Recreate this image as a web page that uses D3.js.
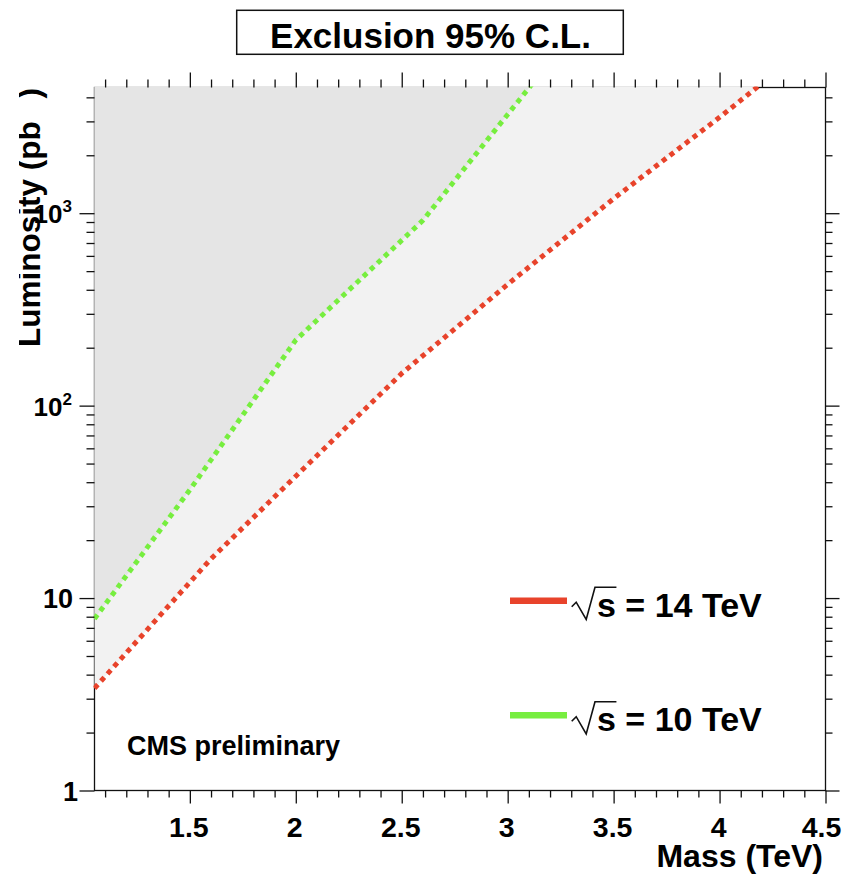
<!DOCTYPE html>
<html>
<head>
<meta charset="utf-8">
<script src="https://cdn.jsdelivr.net/npm/d3@7"></script>
<style>
  html, body { margin: 0; padding: 0; background: #fff; }
  svg { display: block; font-family: "Liberation Sans", Arial, Helvetica, sans-serif; font-weight: bold; }
</style>
</head>
<body>
<svg id="chart" width="855" height="876"></svg>
<script>
// Exclusion reach (95% C.L.) vs. resonance mass, for two LHC energies
const mass10 = [1.05, 1.5, 2.0, 2.6, 3.0, 3.5];
const lumi10 = [7.8, 36.5, 219, 918, 3260, 15800];
const mass14 = [1.05, 1.6, 2.0, 2.5, 3.0, 3.5, 4.0, 4.5];
const lumi14 = [3.4, 16, 43, 147, 427, 1190, 3150, 8700];

const seriesLabels = ["s = 14 TeV", "s = 10 TeV"];
const seriesColors = ["#e8432b", "#77ee3f"];

const xMajorTicks = [1.5, 2, 2.5, 3, 3.5, 4, 4.5];
const xTickLabels = ["1.5", "2", "2.5", "3", "3.5", "4", "4.5"];
const yMajorTicks = [1, 10, 100, 1000];
const yMinorTicks = [2,3,4,5,6,7,8,9,20,30,40,50,60,70,80,90,200,300,400,500,600,700,800,900,2000,3000,4000];

const xDomain = [1.05, 4.5];
const yDomain = [1, 4500];

const svg = d3.select("#chart");
const x = d3.scaleLinear().domain(xDomain).range([94.5, 825.5]);
const y = d3.scaleLog().domain(yDomain).range([790.5, 87.5]);
const xMinorTicks = d3.range(11, 45).map(d => d / 10).filter(d => Math.abs(d * 2 - Math.round(d * 2)) > 1e-6);

const toPts = (ms, ls) => ms.map((m, i) => ({ m, l: ls[i] }));
const s14 = toPts(mass14, lumi14);
const s10 = toPts(mass10, lumi10);

// frame
const [x0, x1] = x.range();
const [yb, yt] = y.range();
svg.append("rect")
  .attr("x", x0).attr("y", yt).attr("width", x1 - x0).attr("height", yb - yt)
  .attr("fill", "none").attr("stroke", "#111").attr("stroke-width", 1.3);

// clip for filled regions and curves
const defs = svg.append("defs");
defs.append("clipPath").attr("id", "plotClip")
  .append("rect").attr("x", x0 - 1).attr("y", yt - 1)
  .attr("width", x1 - x0 + 1).attr("height", yb - yt + 1);
defs.append("clipPath").attr("id", "titleClip")
  .append("rect").attr("x", 19).attr("y", 0).attr("width", 60).attr("height", 876);

const plot = svg.append("g").attr("clip-path", "url(#plotClip)");
const area = d3.area().x(d => x(d.m)).y0(y(yDomain[1]) - 2).y1(d => y(d.l));
plot.append("path").datum(s14).attr("d", area).attr("fill", "#f2f2f2");
plot.append("path").datum(s10).attr("d", area).attr("fill", "#e5e5e5");

const line = d3.line().x(d => x(d.m)).y(d => y(d.l));
[s14, s10].forEach((s, i) => {
  plot.append("path").datum(s).attr("d", line)
    .attr("fill", "none").attr("stroke", seriesColors[i])
    .attr("stroke-width", 5).attr("stroke-dasharray", "5 4.7");
});

// axes (ticks drawn outside the frame)
function axisGroup(axis, tx, ty) {
  const g = svg.append("g").attr("transform", `translate(${tx},${ty})`).call(axis);
  g.select(".domain").remove();
  g.selectAll(".tick line").attr("stroke", "#111").attr("stroke-width", 1.3);
  g.selectAll(".tick text").remove();
  return g;
}
axisGroup(d3.axisBottom(x).tickValues(xMajorTicks).tickSize(13).tickSizeOuter(0), 0, yb);
axisGroup(d3.axisBottom(x).tickValues(xMinorTicks).tickSize(7).tickSizeOuter(0), 0, yb);
axisGroup(d3.axisTop(x).tickValues(xMajorTicks).tickSize(15).tickSizeOuter(0), 0, yt);
axisGroup(d3.axisTop(x).tickValues(xMinorTicks).tickSize(8).tickSizeOuter(0), 0, yt);
axisGroup(d3.axisLeft(y).tickValues(yMajorTicks).tickSize(15).tickSizeOuter(0), x0, 0);
axisGroup(d3.axisLeft(y).tickValues(yMinorTicks).tickSize(8).tickSizeOuter(0), x0, 0);
axisGroup(d3.axisRight(y).tickValues(yMajorTicks).tickSize(14).tickSizeOuter(0), x1, 0);
axisGroup(d3.axisRight(y).tickValues(yMinorTicks).tickSize(7).tickSizeOuter(0), x1, 0);

// x tick labels
svg.append("g").selectAll("text").data(xMajorTicks).join("text")
  .attr("x", d => x(d) - (d === 4.5 ? 4 : 1)).attr("y", 837)
  .attr("text-anchor", "middle").attr("font-size", 28.5)
  .text((d, i) => xTickLabels[i]);

// y tick labels
yMajorTicks.forEach(v => {
  const exp = Math.round(Math.log10(v));
  const t = svg.append("text").attr("text-anchor", "end").attr("y", y(v) + 10);
  if (exp === 0) {
    t.attr("x", 78).attr("font-size", 27).text("1");
  } else if (exp === 1) {
    t.attr("x", 73).attr("font-size", 27).text("10");
  } else {
    t.attr("x", 72).attr("font-size", 26);
    t.append("tspan").text("10");
    t.append("tspan").attr("font-size", 17).attr("dy", -11).text(String(exp));
  }
});

// axis titles
svg.append("text").attr("x", 823).attr("y", 867).attr("text-anchor", "end")
  .attr("font-size", 32).text("Mass (TeV)");

const yTitle = svg.append("g").attr("clip-path", "url(#titleClip)")
  .append("text").attr("transform", "translate(40,88) rotate(-90)")
  .attr("text-anchor", "end").attr("font-size", 31.5);
yTitle.append("tspan").text("Luminosity (pb");
yTitle.append("tspan").attr("font-size", 20).attr("dy", -24).text("\u22121");
yTitle.append("tspan").attr("dy", 24).text(")");

// title box
svg.append("rect").attr("x", 236.7).attr("y", 10.3).attr("width", 386.6).attr("height", 44)
  .attr("fill", "#fff").attr("stroke", "#111").attr("stroke-width", 1.5);
svg.append("text").attr("x", 430.5).attr("y", 47.7).attr("text-anchor", "middle")
  .attr("font-size", 35).text("Exclusion 95% C.L.");

// CMS label
svg.append("text").attr("x", 127).attr("y", 755).attr("font-size", 27).text("CMS preliminary");

// legend
seriesLabels.forEach((lab, i) => {
  const ly = 600.7 + i * 114.5;
  svg.append("line").attr("x1", 510).attr("x2", 567).attr("y1", ly).attr("y2", ly)
    .attr("stroke", seriesColors[i]).attr("stroke-width", 6.5);
  const bx = 571.7, by = ly + 16;
  // radical sign over s
  const txt = svg.append("text").attr("x", 597).attr("y", by).attr("font-size", 34);
  txt.append("tspan").text(lab);
  const sW = txt.node().getSubStringLength(0, 1);
  svg.append("path")
    .attr("d", `M${bx},${by - 10} L${bx + 4.5},${by - 14.5} L${bx + 14.5},${by + 2.8} L${bx + 23.3},${by - 29.4} L${597 + sW + 0.5},${by - 29.4}`)
    .attr("fill", "none").attr("stroke", "#111").attr("stroke-width", 1.6)
    .attr("stroke-linejoin", "miter");
});
</script>
</body>
</html>
